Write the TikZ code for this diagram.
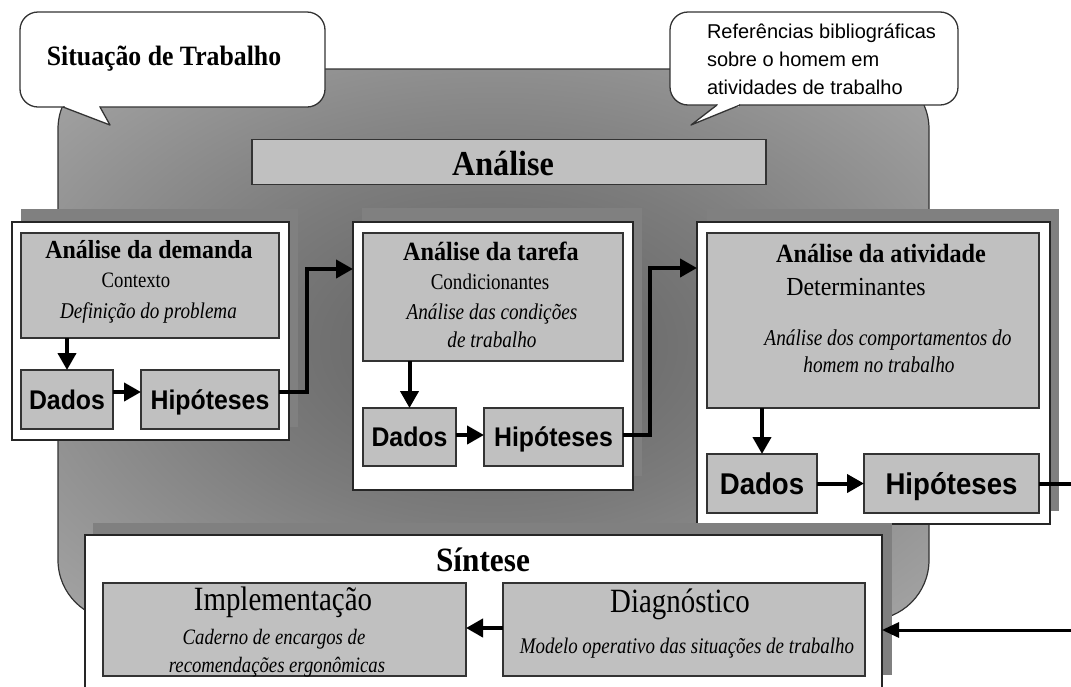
\documentclass[tikz,border=0pt]{standalone}
\usepackage{fontspec}
\setmainfont{Liberation Serif}
\newfontfamily\hdfont[FakeStretch=0.92]{Liberation Serif}
\newfontfamily\bdfont[FakeStretch=0.85]{Liberation Serif}
\newfontfamily\arialf{Liberation Sans}
\newfontfamily\sansnarrow[FakeStretch=0.92]{Liberation Sans}
\usetikzlibrary{arrows.meta}
\definecolor{bgin}{HTML}{606060}
\definecolor{bgmid}{HTML}{7C7C7C}
\definecolor{bgmid2}{HTML}{A6A6A6}
\definecolor{bgout}{HTML}{BCBCBC}
\definecolor{boxC}{HTML}{C0C0C0}
\definecolor{shdC}{HTML}{808080}
\definecolor{lineC}{HTML}{333333}
\pgfdeclareradialshading{bgshade}{\pgfpoint{0bp}{0bp}}{color(0bp)=(bgin); color(16bp)=(bgmid); color(36bp)=(bgmid2); color(50bp)=(bgout)}
\newcommand\hdf[1]{\hdfont\bfseries\fontsize{#1}{#1}\selectfont}
\newcommand\txf[1]{\bdfont\fontsize{#1}{#1}\selectfont}
\newcommand\txi[1]{\bdfont\itshape\fontsize{#1}{#1}\selectfont}
\newcommand\snf[1]{\sansnarrow\bfseries\fontsize{#1}{#1}\selectfont}
\tikzset{
  ibox/.style={draw=lineC, line width=1.2pt, fill=boxC, inner sep=0pt, outer sep=0pt},
  wbox/.style={draw=black!85, line width=1.2pt, fill=white, inner sep=0pt, outer sep=0pt},
  bubble/.style={draw=lineC, line width=1.3pt, fill=white, rounded corners=18pt, inner sep=0pt, outer sep=0pt},
  shd/.style={fill=shdC},
  txt/.style={anchor=base, inner sep=0pt, outer sep=0pt},
  txtl/.style={anchor=base west, inner sep=0pt, outer sep=0pt},
  dbox/.style={ibox, text height=19pt, text depth=0pt},
  dboxL/.style={ibox, text height=21.5pt, text depth=0pt},
  arr/.style={line width=4pt, draw=black, -{Triangle[length=17pt,width=18pt]}},
  arrthin/.style={line width=3pt, draw=black, -{Triangle[length=17pt,width=15pt]}},
  fatline/.style={line width=4pt, draw=black}
}
\begin{document}
\begin{tikzpicture}[x=1pt,y=-1pt]
\useasboundingbox (0,0) rectangle (1071,686);
\fill[white] (0,0) rectangle (1071,686);
% background shape
\shadedraw[shading=bgshade, draw=lineC, line width=1.2pt, rounded corners=60pt] (58,69) rectangle (929,620);
% bubble 1
\node[bubble, minimum width=305, minimum height=95] (bub1) at (172.5,59.5) {};
\fill[white] (63,107) -- (110,125) -- (100,107) -- cycle;
\fill[white] (64.5,104) rectangle (99,108.6);
\draw[lineC, line width=1.3pt, line join=round] (63,107) -- (110,125) -- (100,107);
\node[txt] (bub1t) at (164,65) {\hdf{28}Situação de Trabalho};
% bubble 2
\node[bubble, minimum width=288, minimum height=93] (bub2) at (814,58.5) {};
\fill[white] (717,105) -- (691,125) -- (740,105) -- cycle;
\fill[white] (718,102) rectangle (739,106.6);
\draw[lineC, line width=1.3pt, line join=round] (717,105) -- (691,125) -- (740,105);
\node[txtl] (bub2a) at (707,38) {\arialf\fontsize{20}{20}\selectfont Referências bibliográficas};
\node[txtl] (bub2b) at (707,66) {\arialf\fontsize{20}{20}\selectfont sobre o homem em};
\node[txtl] (bub2c) at (707,94) {\arialf\fontsize{20}{20}\selectfont atividades de trabalho};
% Analise bar
\node[ibox, minimum width=514, minimum height=45] (anaBar) at (509,162) {};
\node[txt] (anaBart) at (503,175) {\hdf{35}Análise};
% demanda
\fill[shd] (21,209) rectangle (298,427);
\node[wbox, minimum width=277, minimum height=218] (demW) at (150.5,331) {};
\node[ibox, minimum width=258, minimum height=105] (demT) at (150,285.5) {};
\node[dbox, minimum width=92, minimum height=59] (dad1) at (67,399.5) {\snf{27}Dados};
\node[dbox, minimum width=138, minimum height=59] (hip1) at (210,399.5) {\snf{27}Hipóteses};
\node[txt] (demH) at (149,258) {\hdf{26}Análise da demanda};
\node[txt] (demS) at (136,287) {\txf{22}Contexto};
\node[txt] (demI) at (148.5,318) {\txi{22.5}Definição do problema};
% tarefa
\fill[shd] (362,208) rectangle (642,476);
\node[wbox, minimum width=280, minimum height=268] (tarW) at (493,356) {};
\node[ibox, minimum width=260, minimum height=128] (tarT) at (493,297) {};
\node[dbox, minimum width=93, minimum height=58] (dad2) at (409.5,437) {\snf{27}Dados};
\node[dbox, minimum width=139, minimum height=58] (hip2) at (553.5,437) {\snf{27}Hipóteses};
\node[txt] (tarH) at (491,260) {\hdf{26.3}Análise da tarefa};
\node[txt] (tarS) at (490,289) {\txf{22.4}Condicionantes};
\node[txt] (tarI1) at (492,319) {\txi{22.6}Análise das condições};
\node[txt] (tarI2) at (492,347) {\txi{22.6}de trabalho};
% atividade
\fill[shd] (707,209) rectangle (1059,511);
\node[wbox, minimum width=353, minimum height=302] (atiW) at (873.5,373) {};
\node[ibox, minimum width=332, minimum height=175] (atiT) at (873,320.5) {};
\node[dboxL, minimum width=110, minimum height=59] (dad3) at (762,483.5) {\snf{30}Dados};
\node[dboxL, minimum width=175, minimum height=59] (hip3) at (951.5,483.5) {\snf{30}Hipóteses};
\node[txt] (atiH) at (881,262) {\hdf{26.3}Análise da atividade};
\node[txt] (atiS) at (856,295) {\hdfont\fontsize{26}{26}\selectfont Determinantes};
\node[txt] (atiI1) at (888,345) {\txi{22.7}Análise dos comportamentos do};
\node[txt] (atiI2) at (879,372) {\txi{22.7}homem no trabalho};
% sintese
\fill[shd] (93,523) rectangle (892,675);
\node[wbox, minimum width=797, minimum height=155] (sinW) at (483.5,612.5) {};
\node[txt] (sinH) at (483,571) {\hdf{34}Síntese};
\node[ibox, minimum width=363, minimum height=93] (imp) at (284.5,629.5) {};
\node[ibox, minimum width=362, minimum height=93] (dia) at (684,629.5) {};
\node[txt] (impH) at (283,610) {\txf{34}Implementação};
\node[txt] (impI1) at (274,644) {\txi{22}Caderno de encargos de};
\node[txt] (impI2) at (277,672) {\txi{22}recomendações ergonômicas};
\node[txt] (diaH) at (680,612) {\txf{34}Diagnóstico};
\node[txt] (diaI) at (687,653) {\txi{22.3}Modelo operativo das situações de trabalho};
% connectors
\draw[arr] (dad1.north |- demT.south) -- (dad1.north);
\draw[arr] ([yshift=7.5pt]dad1.east) -- ([yshift=7.5pt]hip1.west);
\draw[arr] ([yshift=7.5pt]hip1.east) -- ++(28,0) |- ([yshift=87pt]tarW.west);
\draw[arr] (dad2.north |- tarT.south) -- (dad2.north);
\draw[arr] ([yshift=2pt]dad2.east) -- ([yshift=2pt]hip2.west);
\draw[arr] ([yshift=2pt]hip2.east) -- ++(27,0) |- ([yshift=105pt]atiW.west);
\draw[arr] (dad3.north |- atiT.south) -- (dad3.north);
\draw[arr] (dad3.east) -- (hip3.west);
\coordinate (offA) at (1100,483.5);
\coordinate (offB) at (1100,630);
\draw[fatline] (hip3.east) -- (offA) -- (offB);
\draw[arrthin] (offB) -- (sinW.east |- offB);
\draw[arr] ([yshift=1.5pt]dia.west) -- ([yshift=1.5pt]imp.east);
\end{tikzpicture}
\end{document}
